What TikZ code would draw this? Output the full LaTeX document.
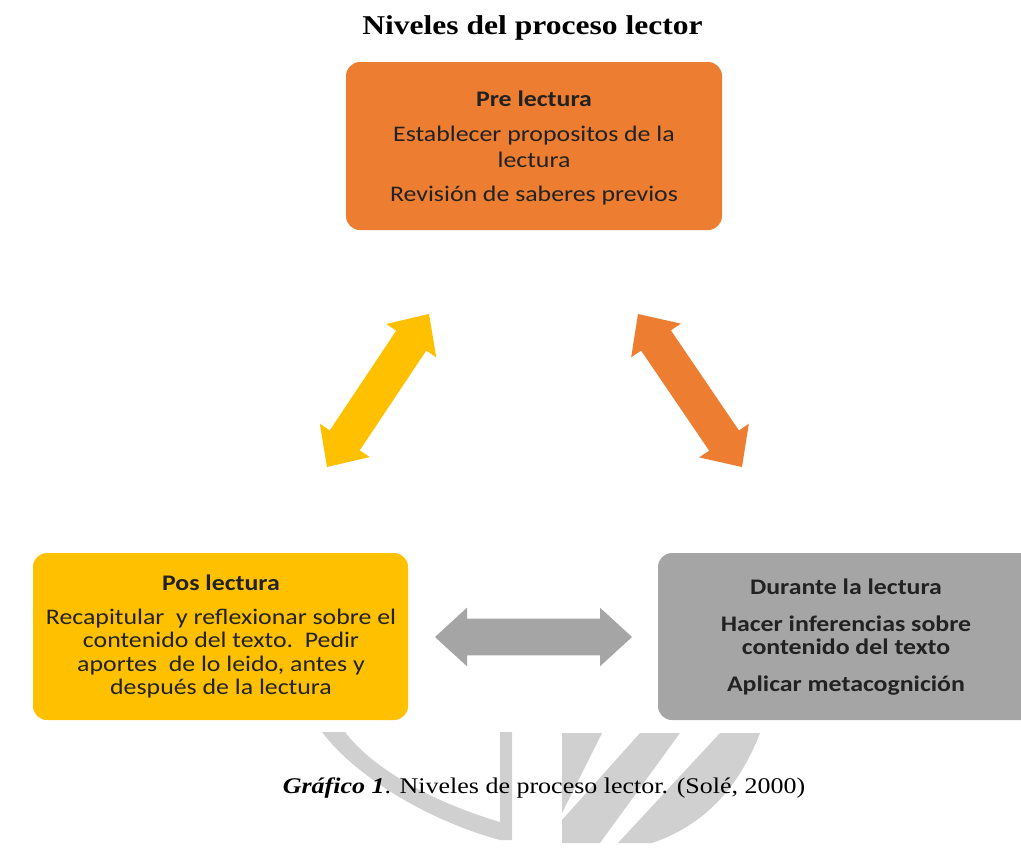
\documentclass[tikz,border=0pt]{standalone}
\usepackage{fontspec}
\setmainfont{Liberation Serif}
\newfontfamily\calib{Carlito}
\usetikzlibrary{calc,fit}
\definecolor{orng}{HTML}{ED7D31}
\definecolor{yelw}{HTML}{FFC000}
\definecolor{gry}{HTML}{A5A5A5}
\definecolor{wmk}{HTML}{D0D0D0}
\definecolor{txt}{HTML}{222222}
% double block arrow between two named coordinates
\newcommand\blockarr[5]{%
  \path ($(#1)!24pt!(#2)$) coordinate (h1) ($(#2)!24pt!(#1)$) coordinate (h2);
  \fill[#3] (#1) -- ($(h1)!#5!90:(#2)$) -- ($(h1)!#4!90:(#2)$)
    -- ($(h2)!#4!-90:(#1)$) -- ($(h2)!#5!-90:(#1)$) -- (#2)
    -- ($(h2)!#5!90:(#1)$) -- ($(h2)!#4!90:(#1)$)
    -- ($(h1)!#4!-90:(#2)$) -- ($(h1)!#5!-90:(#2)$) -- cycle;}
\begin{document}
\begin{tikzpicture}[x=0.75pt,y=-0.75pt,
  box/.style={fill=#1, rounded corners=10.5pt, inner sep=0pt},
  boxtext/.style={align=center, text=txt, xscale=1.16, inner sep=0pt,
    font=\calib\fontsize{16.7pt}{#1}\selectfont},
  boldboxtext/.style={align=center, text=txt, xscale=1.16, inner sep=0pt,
    font=\calib\bfseries\fontsize{16.7pt}{#1}\selectfont},
  wm/.style={fill=wmk},
  yarr/.style={fill=yelw},
  oarr/.style={fill=orng},
  garr/.style={fill=gry}]
\useasboundingbox (0,0) rectangle (1021,847);
\clip (0,0) rectangle (1021,847);
\fill[white] (0,0) rectangle (1021,847);
% watermark
\fill[wm] (322,732) .. controls (352,772) and (420,818) .. (500,840) -- (512,840)
  -- (512,732) -- (500,732) -- (500,822) .. controls (432,802) and (372,768) .. (345,732) -- cycle;
\fill[wm] (562,733) -- (602,733) -- (562,813) -- cycle;
\fill[wm] (640,733) -- (680,733) -- (600,843) -- (562,843) -- (562,820) -- cycle;
\fill[wm] (720,733) -- (760,733) .. controls (738,790) and (702,826) .. (652,843) -- (618,843) -- cycle;
% title
\node[font=\bfseries\fontsize{20.4pt}{24pt}\selectfont, xscale=1.16, inner sep=0pt] (title) at (532.5,28) {Niveles del proceso lector};
% boxes
\node[box=orng, fit={(346,62) (722,230)}] (pre) {};
\node[box=yelw, fit={(33,553) (408,720)}] (pos) {};
\node[box=gry, fit={(658,553) (1045,720)}] (dur) {};
% texts
\node[boxtext=19.5pt] (pretxt) at (534,148) {\textbf{Pre lectura}\\[6.75pt]
  Establecer propositos de la\\ lectura\\[6.5pt] Revisión de saberes previos};
\node[boxtext=17.5pt] (postxt) at (221,636.5) {\textbf{Pos lectura}\\[8pt]
  Recapitular\ \ y reflexionar sobre el\\ contenido del texto.\ \ Pedir\\
  aportes\ \ de lo leido, antes y\\ después de la lectura};
\node[boldboxtext=17.25pt] (durtxt) at (846,637) {Durante la lectura\\[10.5pt]
  Hacer inferencias sobre\\ contenido del texto\\[10.5pt] Aplicar metacognición};
% arrows
\coordinate (ya) at (327,467); \coordinate (yb) at (429,314);
\coordinate (oa) at (638,314); \coordinate (ob) at (742,467);
\coordinate (ga) at (435,637); \coordinate (gb) at (632,637);
\blockarr{ya}{yb}{yarr}{13.5pt}{22.5pt}
\blockarr{oa}{ob}{oarr}{13.5pt}{22.5pt}
\blockarr{ga}{gb}{garr}{13.8pt}{22pt}
% caption
\node[font=\fontsize{16.8pt}{20pt}\selectfont, xscale=1.16, inner sep=0pt] (cap) at (544,788)
  {\textbf{\textit{Gráfico 1}}. Niveles de proceso lector. (Solé, 2000)};
\end{tikzpicture}
\end{document}
